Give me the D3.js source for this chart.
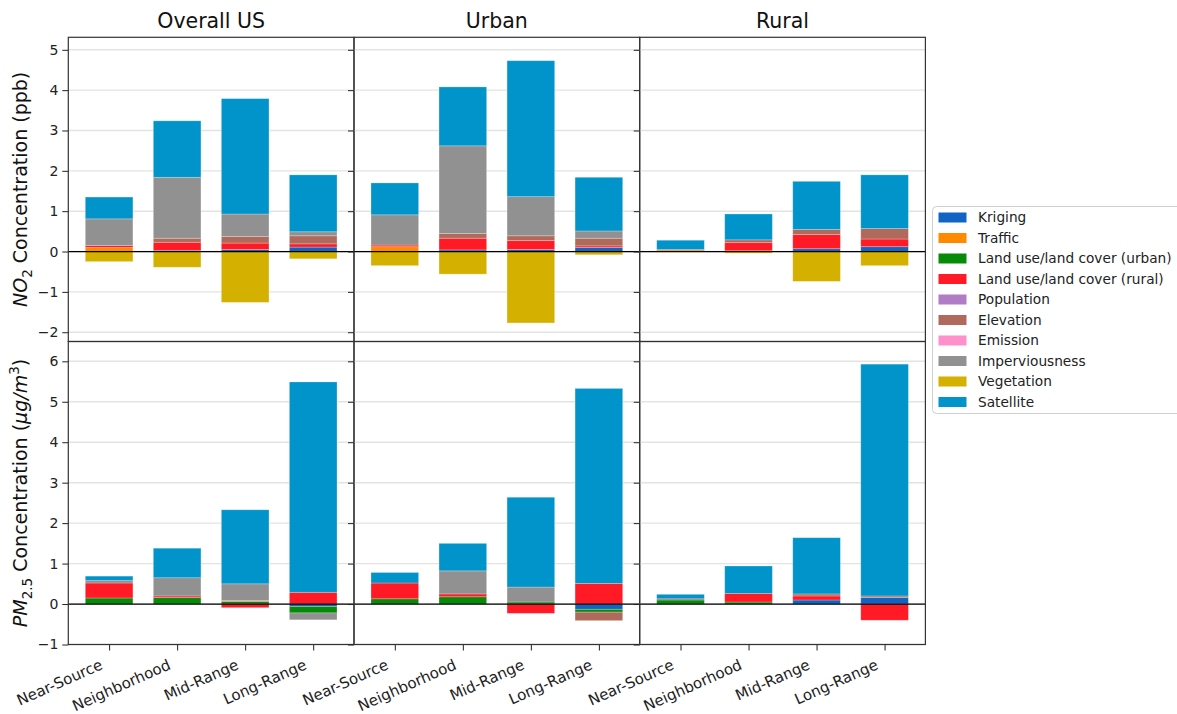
<!DOCTYPE html>
<html>
<head>
<meta charset="utf-8">
<script src="https://cdn.jsdelivr.net/npm/d3@7"></script>
<style>
  html, body { margin: 0; padding: 0; background: #fff; }
  svg { display: block; font-family: "DejaVu Sans", sans-serif; }
</style>
</head>
<body>
<svg id="chart" width="1177" height="714"></svg>
<script>
// Spatial scales on the x axis and the three region panels
const scaleLabels = ["Near-Source", "Neighborhood", "Mid-Range", "Long-Range"];
const regionTitles = ["Overall US", "Urban", "Rural"];

// Predictor groups, in stacking order, and their colours
const predictors = [
  "Kriging", "Traffic", "Land use/land cover (urban)", "Land use/land cover (rural)",
  "Population", "Elevation", "Emission", "Imperviousness", "Vegetation", "Satellite"
];
const predictorColors = [
  "#1164c4", "#ff8a00", "#078a0a", "#ff1a26",
  "#b07cc6", "#b06a5c", "#ff90cc", "#919191", "#d4b000", "#0094ca"
];

// Contribution of each predictor (rows, in predictor order) per spatial scale (columns)
const no2Overall = [
  [0.00, 0.03, 0.05, 0.11],
  [0.10, 0.00, 0.00, 0.00],
  [0.00, 0.00, 0.00, 0.00],
  [0.05, 0.20, 0.16, 0.08],
  [0.00, 0.00, 0.00, 0.00],
  [0.00, 0.10, 0.16, 0.20],
  [0.00, 0.00, 0.00, 0.00],
  [0.66, 1.51, 0.56, 0.10],
  [-0.25, -0.39, -1.26, -0.18],
  [0.54, 1.40, 2.86, 1.41]
];
const no2Urban = [
  [0.00, 0.04, 0.05, 0.10],
  [0.12, 0.00, 0.00, 0.00],
  [0.00, 0.00, 0.00, 0.00],
  [0.04, 0.29, 0.22, 0.04],
  [0.00, 0.00, 0.00, 0.00],
  [0.00, 0.12, 0.12, 0.19],
  [0.00, 0.00, 0.00, 0.00],
  [0.75, 2.17, 0.97, 0.18],
  [-0.35, -0.56, -1.77, -0.08],
  [0.79, 1.46, 3.37, 1.33]
];
const no2Rural = [
  [0.00, 0.00, 0.07, 0.12],
  [0.04, 0.00, 0.00, 0.00],
  [0.00, 0.02, 0.00, 0.00],
  [0.01, 0.20, 0.35, 0.19],
  [0.00, 0.00, 0.00, 0.00],
  [0.00, 0.07, 0.13, 0.26],
  [0.00, 0.00, 0.00, 0.00],
  [0.00, 0.00, 0.00, 0.00],
  [0.00, -0.04, -0.74, -0.35],
  [0.23, 0.64, 1.19, 1.33]
];
const pmOverall = [
  [0.00, 0.00, 0.00, -0.06],
  [0.00, 0.00, 0.00, 0.00],
  [0.15, 0.16, 0.06, -0.16],
  [0.37, 0.04, -0.09, 0.29],
  [0.00, 0.00, 0.00, 0.00],
  [0.00, 0.00, 0.03, 0.00],
  [0.00, 0.00, 0.00, 0.00],
  [0.06, 0.45, 0.41, -0.17],
  [0.00, 0.00, 0.00, 0.00],
  [0.11, 0.73, 1.83, 5.20]
];
const pmUrban = [
  [0.00, 0.00, 0.00, -0.13],
  [0.00, 0.00, 0.00, 0.00],
  [0.13, 0.18, 0.05, -0.07],
  [0.39, 0.07, -0.23, 0.51],
  [0.00, 0.00, 0.00, 0.00],
  [0.00, 0.00, 0.00, -0.21],
  [0.00, 0.00, 0.00, 0.00],
  [0.00, 0.57, 0.37, 0.00],
  [0.00, 0.00, 0.00, 0.00],
  [0.26, 0.68, 2.22, 4.82]
];
const pmRural = [
  [0.00, 0.00, 0.10, 0.16],
  [0.00, 0.00, 0.00, 0.00],
  [0.10, 0.05, 0.00, 0.00],
  [0.00, 0.21, 0.10, -0.40],
  [0.00, 0.00, 0.00, 0.00],
  [0.03, 0.00, 0.05, 0.04],
  [0.00, 0.00, 0.00, 0.00],
  [0.00, 0.00, 0.00, 0.00],
  [0.00, 0.00, 0.00, 0.00],
  [0.11, 0.68, 1.39, 5.73]
];

const no2Ticks = [-2, -1, 0, 1, 2, 3, 4, 5];
const pmTicks = [-1, 0, 1, 2, 3, 4, 5, 6];

const svg = d3.select("#chart");

// Panel geometry
const panelLeft = 68.3, panelW = 285.7;
const rows = [
  { top: 37.3, bottom: 341.5, domain: [-2.23, 5.31], ticks: no2Ticks, data: [no2Overall, no2Urban, no2Rural] },
  { top: 341.5, bottom: 644.5, domain: [-1, 6.49], ticks: pmTicks, data: [pmOverall, pmUrban, pmRural] }
];

const barWidth = 0.7;
const tickFmt = d3.format("d");

function toRecords(matrix) {
  return scaleLabels.map((s, j) => {
    const r = { scale: j };
    predictors.forEach((p, i) => { r[p] = matrix[i][j]; });
    return r;
  });
}

const stack = d3.stack().keys(predictors).offset(d3.stackOffsetDiverging);

rows.forEach((row, ri) => {
  const y = d3.scaleLinear().domain(row.domain).range([row.bottom, row.top]);
  row.data.forEach((matrix, ci) => {
    const x0 = panelLeft + ci * panelW;
    const x = d3.scaleLinear().domain([-0.6, 3.6]).range([x0, x0 + panelW]);
    const g = svg.append("g");

    // horizontal grid
    g.append("g").selectAll("line").data(row.ticks).join("line")
      .attr("x1", x0).attr("x2", x0 + panelW)
      .attr("y1", d => y(d)).attr("y2", d => y(d))
      .attr("stroke", "#e3e3e3").attr("stroke-width", 1.4);

    // stacked bars
    const series = stack(toRecords(matrix));
    g.append("g").selectAll("g").data(series).join("g")
      .attr("fill", (d, i) => predictorColors[i])
      .selectAll("rect").data(d => d.filter(s => s[1] !== s[0])).join("rect")
      .attr("x", d => x(d.data.scale - barWidth / 2))
      .attr("width", d => x(d.data.scale + barWidth / 2) - x(d.data.scale - barWidth / 2))
      .attr("y", d => y(Math.max(d[0], d[1])))
      .attr("height", d => Math.abs(y(d[0]) - y(d[1])))
      .attr("stroke", "#ffffff").attr("stroke-opacity", 0.3).attr("stroke-width", 0.8);

    // zero line
    g.append("line")
      .attr("x1", x0).attr("x2", x0 + panelW)
      .attr("y1", y(0)).attr("y2", y(0))
      .attr("stroke", "#000").attr("stroke-width", 1.2);

    // y axis ticks (labels only on the first column)
    const yAxis = d3.axisLeft(y).tickValues(row.ticks).tickSize(6).tickPadding(4)
      .tickFormat(ci === 0 ? tickFmt : "");
    const ya = g.append("g").attr("transform", `translate(${x0},0)`).call(yAxis);
    ya.select(".domain").remove();
    ya.selectAll(".tick line").attr("stroke", "#222").attr("stroke-width", 1);
    ya.selectAll(".tick text").attr("fill", "#222").style("font-size", "14px")
      .style("font-family", "DejaVu Sans, sans-serif");

    // x axis on the bottom row
    if (ri === 1) {
      const xAxis = d3.axisBottom(x).tickValues([0, 1, 2, 3]).tickSize(6)
        .tickFormat(d => scaleLabels[d]);
      const xa = g.append("g").attr("transform", `translate(0,${row.bottom})`).call(xAxis);
      xa.select(".domain").remove();
      xa.selectAll(".tick line").attr("stroke", "#222").attr("stroke-width", 1);
      xa.selectAll(".tick text")
        .attr("fill", "#222").style("font-size", "15px")
        .style("font-family", "DejaVu Sans, sans-serif")
        .attr("text-anchor", "end")
        .attr("y", 0).attr("dy", "0")
        .attr("transform", "translate(-6,24) rotate(-24)");
    }

    // panel frame
    g.append("rect")
      .attr("x", x0).attr("y", row.top)
      .attr("width", panelW).attr("height", row.bottom - row.top)
      .attr("fill", "none").attr("stroke", "#333").attr("stroke-width", 1.2);

    // column titles
    if (ri === 0) {
      svg.append("text")
        .attr("x", x0 + panelW / 2).attr("y", 28)
        .attr("text-anchor", "middle")
        .style("font-size", "20.5px").attr("fill", "#111")
        .text(regionTitles[ci]);
    }
  });
});

// y-axis titles
const no2Label = svg.append("text")
  .attr("transform", `translate(27,${(rows[0].top + rows[0].bottom) / 2}) rotate(-90)`)
  .attr("text-anchor", "middle").style("font-size", "19px").attr("fill", "#111");
no2Label.append("tspan").style("font-style", "italic").text("NO");
no2Label.append("tspan").attr("dy", 4.5).style("font-size", "13.5px").text("2");
no2Label.append("tspan").attr("dy", -4.5).text(" Concentration (ppb)");

const pmLabel = svg.append("text")
  .attr("transform", `translate(27,${(rows[1].top + rows[1].bottom) / 2}) rotate(-90)`)
  .attr("text-anchor", "middle").style("font-size", "19px").attr("fill", "#111");
pmLabel.append("tspan").style("font-style", "italic").text("PM");
pmLabel.append("tspan").attr("dy", 4.5).style("font-size", "13.5px").text("2.5");
pmLabel.append("tspan").attr("dy", -4.5).text(" Concentration (");
pmLabel.append("tspan").style("font-style", "italic").text("μg/m");
pmLabel.append("tspan").attr("dy", -8).style("font-size", "13.5px").text("3");
pmLabel.append("tspan").attr("dy", 8).text(")");

// legend
const legend = svg.append("g");
legend.append("rect")
  .attr("x", 932.5).attr("y", 206.5).attr("width", 260).attr("height", 207)
  .attr("rx", 4).attr("fill", "#fff").attr("stroke", "#cfcfcf").attr("stroke-width", 1);
const entries = legend.selectAll("g.entry").data(predictors).join("g")
  .attr("class", "entry")
  .attr("transform", (d, i) => `translate(938.5,${217.5 + i * 20.5})`);
entries.append("rect")
  .attr("x", 0).attr("y", -5).attr("width", 28).attr("height", 10)
  .attr("fill", (d, i) => predictorColors[i]);
entries.append("text")
  .attr("x", 39.5).attr("y", 0).attr("dy", "0.35em")
  .style("font-size", "13.7px").attr("fill", "#222")
  .text(d => d);
</script>
</body>
</html>
